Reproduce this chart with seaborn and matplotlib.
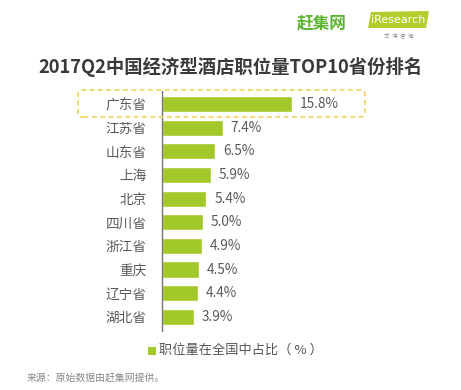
import matplotlib
matplotlib.use("Agg")
import matplotlib.pyplot as plt
import seaborn as sns
import pandas as pd
from matplotlib.patches import FancyBboxPatch, Rectangle, Polygon

provinces = ["广东省", "江苏省", "山东省", "上海", "北京", "四川省", "浙江省", "重庆", "辽宁省", "湖北省"]
values = [15.8, 7.4, 6.5, 5.9, 5.4, 5.0, 4.9, 4.5, 4.4, 3.9]
value_labels = ["15.8%", "7.4%", "6.5%", "5.9%", "5.4%", "5.0%", "4.9%", "4.5%", "4.4%", "3.9%"]
title = "2017Q2中国经济型酒店职位量TOP10省份排名"
legend_label = "职位量在全国中占比（ % ）"
source = "来源：原始数据由赶集网提供。"

sns.set_theme(style="white")
plt.rcParams['font.family'] = ['Noto Sans CJK SC', 'DejaVu Sans']

W, H = 461, 390
fig = plt.figure(figsize=(W / 100, H / 100), dpi=100)
fig.patch.set_facecolor("white")

bar_color = "#a3c829"
ax_left, ax_right = 162, 409
ax_top, ax_bot = 91, 331
ax = fig.add_axes([ax_left / W, (H - ax_bot) / H, (ax_right - ax_left) / W, (ax_bot - ax_top) / H])

df = pd.DataFrame({"province": provinces, "value": values})
sns.barplot(data=df, x="value", y="province", orient="h", color=bar_color,
            saturation=1, width=0.68, ax=ax)
xmax = 247 / 8.23
ax.set_xlim(0, xmax)
ax.set_ylim(9.6, -0.55)
ax.set_xlabel("")
ax.set_ylabel("")
ax.set_xticks([])
for s in ["top", "right", "bottom"]:
    ax.spines[s].set_visible(False)
ax.spines["left"].set_color("#777777")
ax.spines["left"].set_linewidth(1.0)
ax.tick_params(axis="y", length=0, pad=11, labelsize=9.8, labelcolor="#595959")
ax.patch.set_alpha(0)

for i, (v, lab) in enumerate(zip(values, value_labels)):
    ax.text(v + 0.95, i, lab, va="center", ha="left", fontsize=9.8, color="#595959",
            family=['Noto Sans CJK SC', 'DejaVu Sans'])

# Highlight dashed box around the top row
box = FancyBboxPatch((78 / W, (H - 117) / H), (365 - 78) / W, 27 / H,
                     boxstyle="round,pad=0,rounding_size=0.012",
                     transform=fig.transFigure, fill=False,
                     edgecolor="#f0d35a", linestyle=(0, (3, 2)), linewidth=1.2)
fig.patches.append(box)

# Title
fig.text(231 / W, 1 - 67 / H, title, ha="center", va="center", fontsize=13.2,
         fontweight="bold", color="#3a3a3a")

# Logos
fig.text(322 / W, 1 - 23 / H, "赶集网", ha="center", va="center", fontsize=12,
         fontweight="bold", color="#5cb531")
poly = Polygon([(368 / W, 1 - 28 / H), (371 / W, 1 - 12 / H), (429 / W, 1 - 11 / H), (426 / W, 1 - 28 / H)],
               closed=True, transform=fig.transFigure, facecolor="#b5cc2e", edgecolor="none")
fig.patches.append(poly)
fig.text(398 / W, 1 - 20 / H, "iResearch", ha="center", va="center", fontsize=8,
         color="white", family=['DejaVu Sans'])
fig.text(399 / W, 1 - 35 / H, "艾  瑞  咨  询", ha="center", va="center", fontsize=4,
         color="#888888")

# Legend
fig.patches.append(Rectangle((148 / W, 1 - 354.5 / H), 8 / W, 8 / H, transform=fig.transFigure,
                             facecolor=bar_color, edgecolor="none"))
fig.text(159 / W, 1 - 350.5 / H, legend_label, ha="left", va="center", fontsize=9.5,
         color="#555555")

# Source
fig.text(27 / W, 1 - 378 / H, source, ha="left", va="center", fontsize=7.1, color="#888888")

fig.savefig("out.png", dpi=100)
